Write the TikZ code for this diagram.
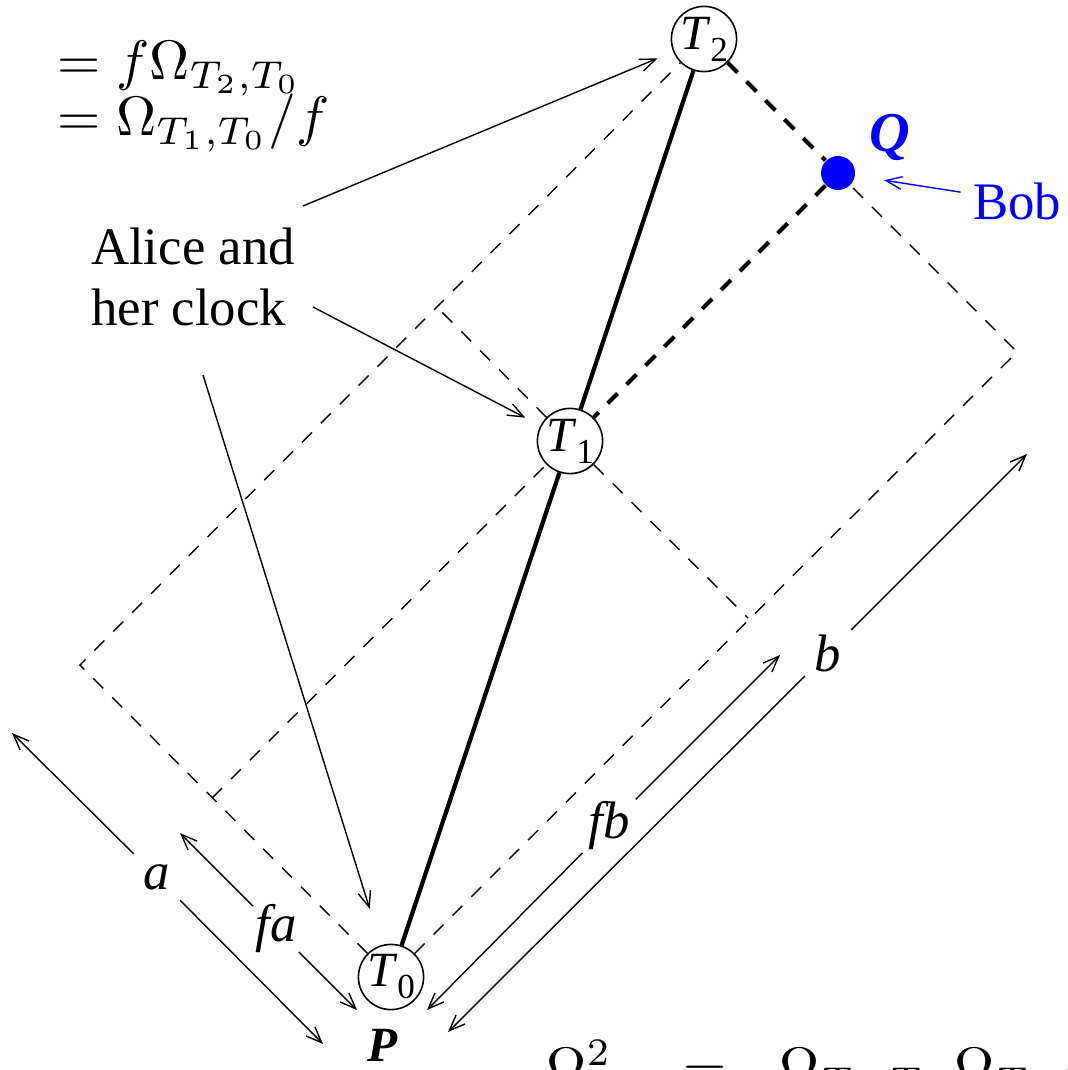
\documentclass[tikz,border=0pt]{standalone}
\usepackage{graphicx}
\usepackage{fontspec}
\setmainfont{Liberation Serif}
\usetikzlibrary{arrows.meta, calc}
\definecolor{bobblue}{HTML}{0000FF}
\newcommand{\clk}[1]{\textit{T}\raisebox{-3.4pt}{\fontsize{10}{10}\selectfont #1}}
\newcommand{\bigmath}[1]{\scalebox{1.58}{#1}}
\tikzset{
  clock/.style={circle, draw, line width=0.45pt, fill=white, minimum size=0.63cm,
    inner sep=0pt, font=\fontsize{14}{16}\selectfont},
  worldline/.style={line width=1.2pt},
  cone/.style={line width=0.4pt, dash pattern=on 4pt off 3.6pt},
  signal/.style={line width=1.2pt, dash pattern=on 4pt off 3.6pt},
  pointer/.style={-{Straight Barb[length=4.5pt,width=3.6pt]}, line width=0.4pt},
  dimlabel/.style={circle, inner sep=0pt, minimum size=#1,
    font=\fontsize{15}{18}\selectfont\itshape},
  bobdot/.style={circle, fill=bobblue, minimum size=0.34cm, inner sep=0pt},
  textlbl/.style={font=\fontsize{15}{17.6}\selectfont, align=left},
  eqn/.style={anchor=base west, inner sep=0pt},
}
\begin{document}
\begin{tikzpicture}[x=0.01cm, y=-0.01cm]
\clip (0,0) rectangle (1068,1070);
\node[clock] (t0) at (391,977) {\clk{0}};
\node[clock] (t1) at (570,441) {\clk{1}};
\node[clock] (t2) at (704,39) {\clk{2}};
\node[bobdot] (q) at (838,173) {};
\node[font=\fontsize{16}{18}\selectfont\bfseries\itshape, text=bobblue] (qlbl) at (890,137) {Q};
\node[font=\fontsize{14}{16}\selectfont\bfseries\itshape] (plbl) at (383,1045) {P};
\node[textlbl, text=bobblue] (bob) at (1017,201) {Bob};
\node[textlbl] (alice) at (193,277) {Alice and\\her clock};
\node[eqn] (eqa) at (57,80) {\bigmath{$= f\Omega_{T_2,T_0}$}};
\node[eqn] (eqb) at (57,136) {\bigmath{$= \Omega_{T_1,T_0}/f$}};
\node[eqn] (eqc) at (546,1086) {\bigmath{$\Omega^2$\hspace{13pt}$=$\hspace{9.5pt}$\Omega_{T_2,\,T_1}\;\Omega_{T_1,\,T_0}$}};

\coordinate (lc) at (80,665);
\coordinate (rc) at (1017,352);
\coordinate (lm) at (212,798);
\coordinate (rm) at (748,618);
\coordinate (lu) at (437,307);
\draw[cone] (t0) -- (lc) -- (t2);
\draw[cone] (t0) -- (rc) -- (q);
\draw[cone] (lm) -- (t1) -- (rm);
\draw[cone] (t1) -- (lu);
\draw[signal] (t2) -- (q) -- (t1);
\draw[worldline] (t0) -- (t1) -- (t2);

\coordinate (p2) at (303,206);
\coordinate (p1) at (313,307);
\coordinate (p0) at (203,375);
\draw[pointer, shorten >=0.17cm] (p2) -- (t2);
\draw[pointer, shorten >=0.17cm] (p1) -- (t1);
\draw[pointer, shorten >=0.38cm] (p0) -- (t0);
\draw[pointer, bobblue, shorten >=0.29cm] (bob) -- (q);

\coordinate (a0) at (12,733);
\coordinate (a1) at (323,1044);
\coordinate (fa0) at (180,833);
\coordinate (fa1) at (357,1010);
\coordinate (fb0) at (780,655);
\coordinate (fb1) at (427,1010);
\coordinate (b0) at (1027,454);
\coordinate (b1) at (448,1032);
\node[dimlabel=0.64cm] (la) at (157,877) {a};
\node[dimlabel=0.5cm] (lfa) at (276,929) {fa};
\node[dimlabel=0.74cm] (lfb) at (609,826) {fb};
\node[dimlabel=0.64cm] (lb) at (828,653) {b};
\draw[pointer] (la) -- (a0);
\draw[pointer] (la) -- (a1);
\draw[pointer] (lfa) -- (fa0);
\draw[pointer] (lfa) -- (fa1);
\draw[pointer] (lfb) -- (fb0);
\draw[pointer] (lfb) -- (fb1);
\draw[pointer] (lb) -- (b0);
\draw[pointer] (lb) -- (b1);
\end{tikzpicture}
\end{document}
